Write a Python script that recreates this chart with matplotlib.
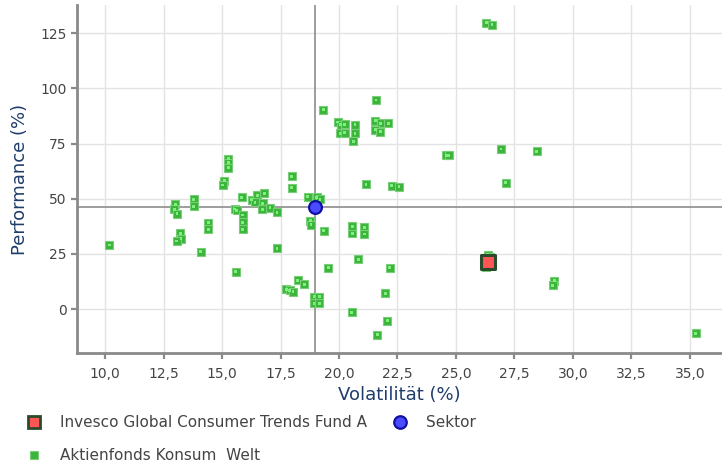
"""
Risk/return scatter: Invesco Global Consumer Trends Fund A vs. sector peers.
"""

import matplotlib.pyplot as plt
from matplotlib.lines import Line2D
from matplotlib.ticker import FuncFormatter

# peers (Aktienfonds Konsum Welt): volatility %, performance %
PEER_VOL = [
    13.0, 12.96, 13.08, 13.79, 13.79, 14.42, 14.42, 13.22, 13.25, 13.06, 14.09, 10.18,
    15.27, 15.27, 15.27, 15.09, 15.03, 17.98, 17.98, 15.84, 16.27, 16.51, 16.81, 16.41,
    16.74, 17.05, 16.72, 17.35, 15.54, 15.63, 15.88, 15.88, 15.88, 17.35, 18.66, 19.04,
    19.19, 18.78, 18.8, 19.35, 15.58, 17.74, 17.9, 18.03, 18.23, 18.52, 18.93, 19.16,
    18.93, 19.16, 19.54, 20.54, 20.57, 20.83, 21.15, 22.25, 22.56, 20.57, 21.08, 21.08,
    22.17, 21.98, 22.07, 21.64, 19.33, 21.58, 19.94, 20.07, 20.24, 20.68, 20.04, 20.24,
    20.68, 20.61, 21.55, 21.78, 22.11, 21.55, 21.76, 26.3, 26.54, 24.57, 24.69, 26.92,
    28.45, 27.12, 26.35, 26.45, 26.3, 29.2, 29.13, 35.24,
]
PEER_PERF = [
    47.4, 45.2, 43.3, 49.8, 46.5, 39.1, 36.1, 34.4, 31.9, 30.9, 26.0, 29.0,
    68.2, 66.3, 64.0, 58.1, 56.2, 60.2, 55.0, 50.7, 49.5, 51.5, 52.4, 48.3,
    47.9, 45.9, 45.2, 43.9, 45.4, 44.7, 42.6, 39.4, 36.2, 27.5, 50.9, 50.6,
    49.8, 40.0, 38.3, 35.5, 16.9, 8.9, 8.6, 7.9, 13.0, 11.2, 5.6, 5.6,
    2.7, 2.7, 18.7, -1.4, 34.3, 22.5, 56.6, 55.9, 55.4, 37.6, 37.0, 34.0,
    18.7, 7.1, -5.3, -11.5, 90.3, 94.7, 84.8, 83.6, 83.8, 83.6, 79.6, 79.9,
    79.6, 76.1, 85.3, 84.2, 84.2, 81.3, 80.4, 129.7, 128.9, 69.7, 69.6, 72.5,
    71.4, 57.2, 24.6, 23.8, 19.0, 12.8, 10.7, -11.0,
]

FUND_NAME = "Invesco Global Consumer Trends Fund A"
FUND_VOL = [26.38]
FUND_PERF = [21.4]

SECTOR_VOL = [18.97]
SECTOR_PERF = [46.2]

X_TICKS = [10.0, 12.5, 15.0, 17.5, 20.0, 22.5, 25.0, 27.5, 30.0, 32.5, 35.0]
Y_TICKS = [0, 25, 50, 75, 100, 125]

GREEN = "#3cb43c"
GREEN_EDGE = "#78cf78"
GREEN_DOT = "#7cf27c"
AXIS_GRAY = "#8a8a8a"
LABEL_BLUE = "#1f3d6b"
TEXT_GRAY = "#444444"

fig = plt.figure(figsize=(7.22, 4.67), dpi=100)
ax = fig.add_axes([0.1066, 0.244, 0.8934, 0.745])

# crosshair through the sector average
ax.axhline(SECTOR_PERF[0], color="#8c8c8c", linewidth=1.2, zorder=2)
ax.axvline(SECTOR_VOL[0], color="#8c8c8c", linewidth=1.2, zorder=2)

ax.scatter(PEER_VOL, PEER_PERF, marker="s", s=40, facecolor=GREEN,
           edgecolor=GREEN_EDGE, linewidth=0.8, zorder=3)
ax.scatter(PEER_VOL, PEER_PERF, marker="s", s=4, facecolor=GREEN_DOT,
           edgecolor="none", zorder=4)
ax.scatter(FUND_VOL, FUND_PERF, marker="s", s=90, facecolor="#ff5555",
           edgecolor="#2b4a2b", linewidth=2.2, zorder=5)
ax.scatter(SECTOR_VOL, SECTOR_PERF, marker="o", s=85, facecolor="#4a4aff",
           edgecolor="#1010a0", linewidth=1.6, zorder=5)

ax.set_xlim(8.8, 36.37)
ax.set_ylim(-19.9, 137.7)
ax.set_xticks(X_TICKS)
ax.set_yticks(Y_TICKS)
ax.xaxis.set_major_formatter(FuncFormatter(lambda v, p: f"{v:.1f}".replace(".", ",")))
ax.grid(True, color="#e3e3e3", linewidth=1.0, zorder=0)
ax.set_axisbelow(True)

for side in ("top", "right"):
    ax.spines[side].set_visible(False)
for side in ("left", "bottom"):
    ax.spines[side].set_color(AXIS_GRAY)
    ax.spines[side].set_linewidth(2)
ax.tick_params(axis="both", colors=AXIS_GRAY, labelcolor=TEXT_GRAY,
               labelsize=10, width=1.6, length=4)
ax.tick_params(axis="x", pad=6)

ax.set_xlabel("Volatilität (%)", fontsize=13, color=LABEL_BLUE, labelpad=4)
ax.set_ylabel("Performance (%)", fontsize=13, color=LABEL_BLUE, labelpad=8)

handles = [
    Line2D([], [], linestyle="none", marker="s", markersize=9,
           markerfacecolor="#ff5555", markeredgecolor="#2b4a2b", markeredgewidth=2),
    Line2D([], [], linestyle="none", marker="s", markersize=6,
           markerfacecolor=GREEN, markeredgecolor=GREEN_EDGE, markeredgewidth=0.8),
    Line2D([], [], linestyle="none", marker="o", markersize=9,
           markerfacecolor="#4a4aff", markeredgecolor="#1010a0", markeredgewidth=1.6),
]
labels = [FUND_NAME, "Aktienfonds Konsum  Welt", "Sektor"]
leg = fig.legend(handles, labels, loc="upper left", bbox_to_anchor=(0.03, 0.124),
                 ncol=2, frameon=False, fontsize=11, labelcolor=TEXT_GRAY,
                 handlelength=0.8, handletextpad=1.3, columnspacing=1.77,
                 labelspacing=1.16, borderaxespad=0)

plt.savefig("out.png", dpi=100)
